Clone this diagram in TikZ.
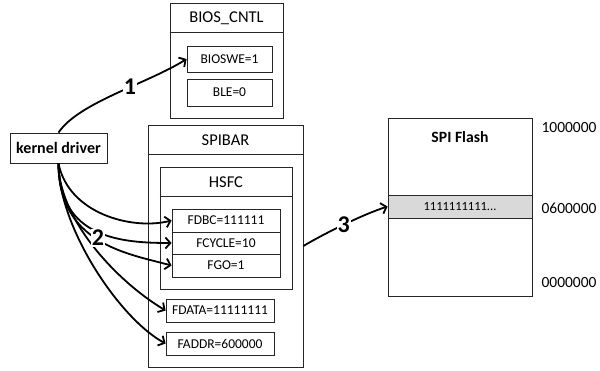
\documentclass[tikz,border=0pt]{standalone}
\usepackage{fontspec}
\setmainfont{Carlito}
\usetikzlibrary{arrows.meta}
\begin{document}
\begin{tikzpicture}[x=1pt,y=-1pt,
  box/.style={draw=black!85,line width=0.8pt,rectangle,inner sep=0pt},
  hdr/.style={font=\fontsize{16.5}{18}\selectfont},
  reg/.style={box,font=\fontsize{13.5}{15}\selectfont},
  addr/.style={font=\fontsize{15.5}{17}\selectfont,anchor=west},
  num/.style={font=\bfseries\fontsize{24}{26}\selectfont,fill=white,inner sep=1pt},
  arr/.style={line width=1.8pt,-{Straight Barb[length=5pt,width=11pt]}}]
\useasboundingbox (0,0) rectangle (600,370);
% BIOS_CNTL
\node[box,minimum width=113pt,minimum height=115pt] (bios) at (226.5,60.5) {};
\node[hdr] (biost) at (226.5,18) {BIOS\_CNTL};
\draw[black!85,line width=0.8pt] (bios.north west) ++(0,30) coordinate (bh1) -- (bios.north east |- bh1);
\node[reg,minimum width=85pt,minimum height=26pt] (bioswe) at (229.5,59) {BIOSWE=1};
\node[reg,minimum width=85pt,minimum height=27pt] (ble) at (229.5,92.5) {BLE=0};
% SPIBAR
\node[box,minimum width=155pt,minimum height=242pt] (spibar) at (225.5,246) {};
\node[hdr] (spit) at (225.5,140) {SPIBAR};
\draw[black!85,line width=0.8pt] (spibar.north west) ++(0,30) coordinate (sh1) -- (spibar.north east |- sh1);
\node[box,minimum width=132pt,minimum height=122pt] (hsfc) at (226,228) {};
\node[hdr] (hsfct) at (226,182) {HSFC};
\draw[black!85,line width=0.8pt] (hsfc.north west) ++(0,30) coordinate (hh1) -- (hsfc.north east |- hh1);
\node[reg,minimum width=108pt,minimum height=23pt] (fdbc) at (226,220.5) {FDBC=111111};
\node[reg,minimum width=108pt,minimum height=22pt] (fcycle) at (226,243) {FCYCLE=10};
\node[reg,minimum width=108pt,minimum height=23pt] (fgo) at (226,265.5) {FGO=1};
\node[reg,minimum width=108pt,minimum height=23pt] (fdata) at (220,310.5) {FDATA=11111111};
\node[reg,minimum width=108pt,minimum height=23pt] (faddr) at (220,343.5) {FADDR=600000};
% kernel driver
\node[box,minimum width=97pt,minimum height=30pt,font=\bfseries\fontsize{16}{18}\selectfont] (kd) at (58.5,148) {kernel driver};
% SPI Flash
\node[box,minimum width=144pt,minimum height=178pt] (flash) at (460,207) {};
\node[font=\bfseries\fontsize{15.7}{17}\selectfont] (flasht) at (460,137) {SPI Flash};
\node[box,fill=black!15,minimum width=144pt,minimum height=23pt,font=\fontsize{12.5}{14}\selectfont] (band) at (460,206.5) {1111111111...};
\node[addr] (a1) at (538,128) {1000000};
\node[addr] (a2) at (538,208) {0600000};
\node[addr] (a3) at (538,283) {0000000};
% arrows
\draw[arr] (kd.north) .. controls +(20,-30) and +(-40,25) .. node[num,pos=0.6] (n1) {1} (bioswe.west);
\draw[arr] (kd.south) .. controls +(10,50) and +(-40,10) .. (fdbc.west);
\draw[arr] (kd.south) .. controls +(0,75) and +(-50,0) .. (fcycle.west);
\draw[arr] (kd.south) .. controls +(0,80) and +(-45,-12) .. (fgo.west);
\draw[arr] (kd.south) .. controls +(0,55) and +(-50,-30) .. (fdata.west);
\draw[arr] (kd.south) .. controls +(0,65) and +(-45,-24) .. (faddr.west);
\node[num] (n2) at (98,238) {2};
\draw[arr] (spibar.east) .. controls +(20,-12) and +(-25,8) .. node[num,pos=0.5] (n3) {3} (band.west);
\end{tikzpicture}
\end{document}
